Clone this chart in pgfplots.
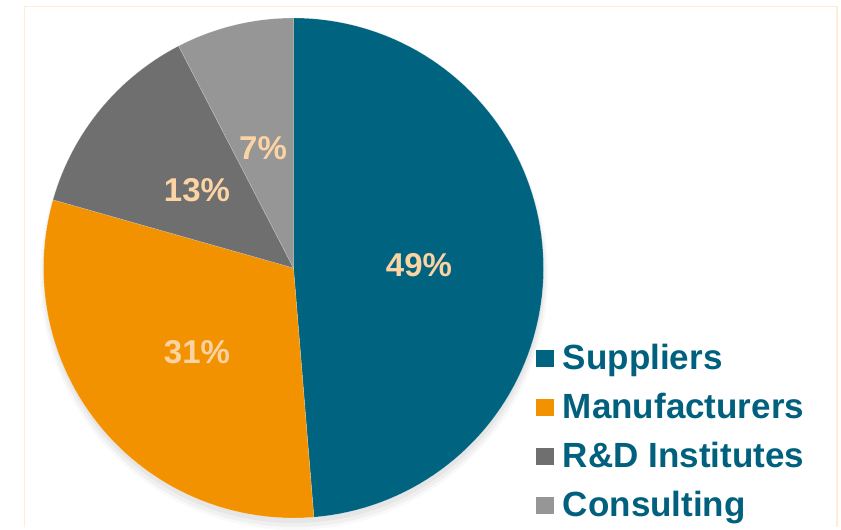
\documentclass[border=0pt]{standalone}
\usepackage{pgfplots}
\pgfplotsset{compat=1.18}
\usepackage{fontspec}
\setmainfont{Liberation Sans}
\definecolor{supp}{RGB}{0,99,128}
\definecolor{manu}{RGB}{243,146,0}
\definecolor{rnd}{RGB}{111,111,111}
\definecolor{cons}{RGB}{150,150,150}
\definecolor{labcol}{RGB}{252,212,164}
\definecolor{legtext}{RGB}{0,96,125}
\definecolor{framecol}{RGB}{254,236,212}
\begin{document}
\begin{tikzpicture}
\begin{axis}[
  scale only axis, width=841pt, height=527pt,
  xmin=0, xmax=841, ymin=0, ymax=527,
  hide axis, clip=false,
  legend cell align=left,
  legend image code/.code={\fill[#1,draw=none] (0pt,-7pt) rectangle (18pt,10pt);},
  legend style={at={(0.6373,0.3491)}, anchor=north west, draw=none, fill=none,
    inner sep=0pt, outer sep=0pt, row sep=15pt, column sep=9pt,
    nodes={inner sep=0pt, text height=26pt, text depth=8pt,
      font=\fontsize{35}{42}\selectfont\bfseries, text=legtext}},
  slice/.style={draw=white, draw opacity=0.35, line width=0.4pt},
]
\path (rel axis cs:0,0) rectangle (rel axis cs:1,1);
\draw[framecol, line width=1.6pt] (axis cs:24.5,0) -- (axis cs:24.5,520.5) -- (axis cs:837,520.5) -- (axis cs:837,0);
% soft shadow, mostly below the pie
\fill[black, opacity=0.025] (axis cs:294,251) circle[radius=254pt];
\fill[black, opacity=0.035] (axis cs:294,252) circle[radius=252pt];
\fill[black, opacity=0.045] (axis cs:294,254) circle[radius=250pt];
% slices: cumulative shares in percent, clockwise from 12 o'clock
\addplot[slice, fill=supp, domain=0:48.7, samples=90]
  ({293.5+250*cos(90-3.6*x)}, {259+250*sin(90-3.6*x)}) -- (axis cs:293.5,259) -- cycle;
\addlegendentry{Suppliers}
\addplot[slice, fill=manu, domain=48.7:79.4, samples=60]
  ({293.5+250*cos(90-3.6*x)}, {259+250*sin(90-3.6*x)}) -- (axis cs:293.5,259) -- cycle;
\addlegendentry{Manufacturers}
\addplot[slice, fill=rnd, domain=79.4:92.4, samples=30]
  ({293.5+250*cos(90-3.6*x)}, {259+250*sin(90-3.6*x)}) -- (axis cs:293.5,259) -- cycle;
\addlegendentry{R\&D Institutes}
\addplot[slice, fill=cons, domain=92.4:100, samples=20]
  ({293.5+250*cos(90-3.6*x)}, {259+250*sin(90-3.6*x)}) -- (axis cs:293.5,259) -- cycle;
\addlegendentry{Consulting}
% percentage labels
\addplot[draw=none, mark=none, forget plot, nodes near coords, point meta=explicit symbolic,
  nodes near coords style={anchor=center, inner sep=0pt,
    font=\fontsize{33}{38}\selectfont\bfseries, text=labcol}]
  coordinates {(419,262) [49\%] (197,175) [31\%] (197,337) [13\%] (263,379) [7\%]};
\end{axis}
\end{tikzpicture}
\end{document}
